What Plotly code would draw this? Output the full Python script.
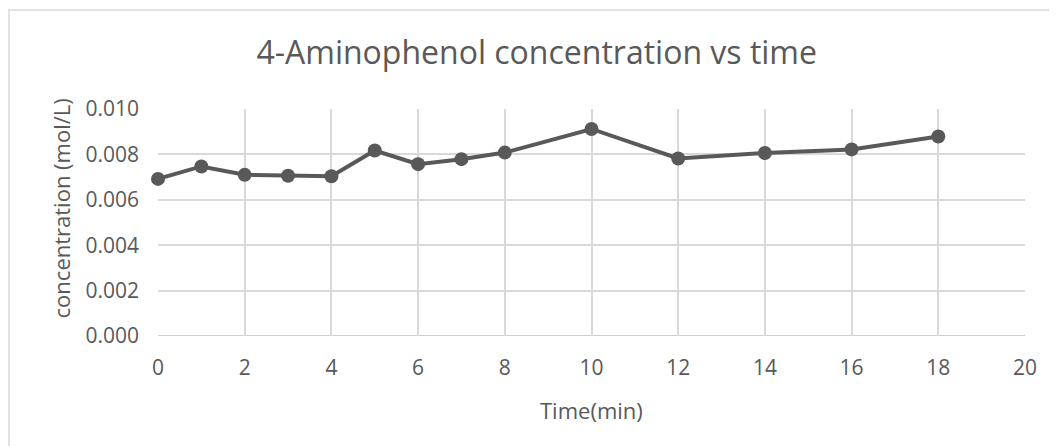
import plotly.graph_objects as go

time_min = [0, 1, 2, 3, 4, 5, 6, 7, 8, 10, 12, 14, 16, 18]
concentration = [0.00692, 0.00747, 0.00710, 0.00706, 0.00704, 0.00817, 0.00757,
                 0.00779, 0.00808, 0.00912, 0.00782, 0.00806, 0.00822, 0.00879]

x_ticks = [0, 2, 4, 6, 8, 10, 12, 14, 16, 18, 20]
y_ticks = [0.000, 0.002, 0.004, 0.006, 0.008, 0.010]

font_family = "Open Sans, Noto Sans, sans-serif"
text_grey = "#595959"

# page body adds an 8px offset, so the figure is sized a little smaller
W, H = 1049, 438
L, R, T, B = 150, 32, 101, 110
pw, ph = W - L - R, H - T - B

fig = go.Figure()

fig.add_trace(go.Scatter(
    x=time_min, y=concentration, mode='lines+markers',
    line=dict(color='#595959', width=4),
    marker=dict(color='#595959', size=14),
    showlegend=False, cliponaxis=False
))

fig.update_layout(
    width=W, height=H,
    margin=dict(l=L, r=R, t=T, b=B),
    paper_bgcolor='white', plot_bgcolor='white',
    title=dict(text="4-Aminophenol concentration vs time", x=0.504, xanchor='center',
               y=1 - 45 / H, yanchor='middle',
               font=dict(family=font_family, size=32, color=text_grey)),
    font=dict(family=font_family, color=text_grey),
    xaxis=dict(
        range=[0, 20], tickvals=x_ticks, ticktext=[str(v) for v in x_ticks],
        showgrid=True, gridcolor='#d9d9d9', gridwidth=1.5,
        zeroline=False, showline=False, ticks='',
        ticklabelstandoff=17,
        tickfont=dict(size=21, color=text_grey),
    ),
    yaxis=dict(
        range=[0, 0.010], tickvals=y_ticks, ticktext=[f"{v:.3f}" for v in y_ticks],
        showgrid=True, gridcolor='#d9d9d9', gridwidth=1.5,
        zeroline=False, showline=False, ticks='',
        ticklabelstandoff=18,
        tickfont=dict(size=21, color=text_grey),
    ),
    annotations=[
        dict(text="Time(min)", xref='paper', yref='paper', x=0.5, y=(328 - 402) / ph,
             xanchor='center', yanchor='middle', showarrow=False,
             font=dict(size=22, color=text_grey)),
        dict(text="concentration (mol/L)", xref='paper', yref='paper',
             x=(53 - L) / pw, y=0.562, textangle=-90,
             xanchor='center', yanchor='middle', showarrow=False,
             font=dict(size=22, color=text_grey)),
    ],
    shapes=[
        # chart border
        dict(type='rect', xref='paper', yref='paper',
             x0=(1 - L) / pw, x1=(W + 20 - L) / pw,
             y0=(T + ph - H - 20) / ph, y1=(T + ph - 2) / ph,
             line=dict(color='#d9d9d9', width=1.5), fillcolor='rgba(0,0,0,0)', layer='below'),
        # baseline
        dict(type='line', xref='paper', yref='y', x0=0, x1=1, y0=0, y1=0,
             line=dict(color='#bfbfbf', width=1.5), layer='below'),
    ],
)

fig.write_html("out.html")
